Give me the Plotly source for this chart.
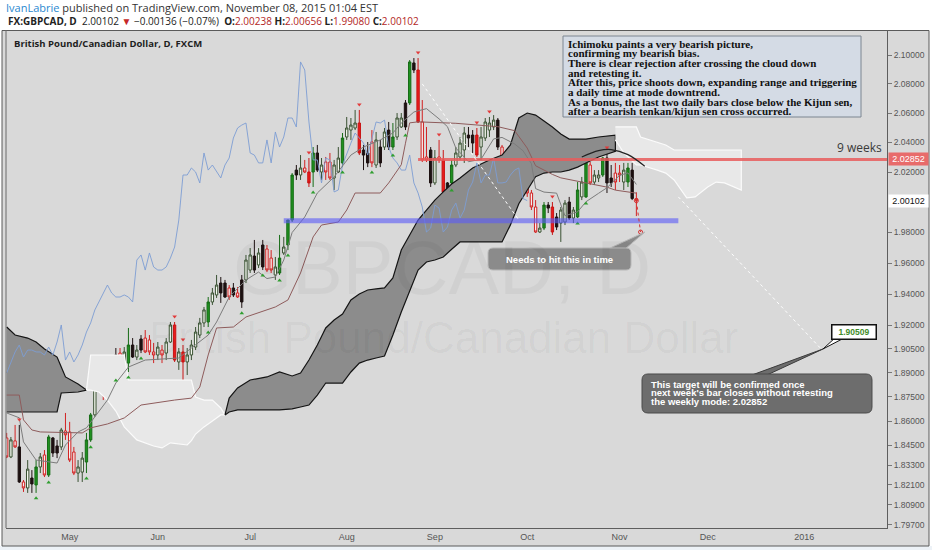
import math
import pandas as pd
import plotly.graph_objects as go

# ---------------- data ----------------
first_bar = "2015-04-10"

# candle look per bar: g=green, w=white/hollow, k=black, r=red, o=red outline
styles = list(
    "owokowkgwo" "gkkwooowwg" "gwoowokowg" "kwkooowoww" "rwrwwwwwgw"
    "wkkokokwwk" "wkoowgwggk" "worgkwooww" "gwwwrkkowk" "wkgwwkgkro"
    "okworkgwww" "kkrwwwwkoo" "okwrooowgk" "rkwwkwgwgo" "wwgkkoowgk" "o"
)

opens = [
    1.8496, 1.8380, 1.8478, 1.8441, 1.8228, 1.8192, 1.8252, 1.8210, 1.8319, 1.8392,
    1.8270, 1.8496, 1.8447, 1.8441, 1.8539, 1.8533, 1.8410, 1.8282, 1.8288, 1.8349,
    1.8484, 1.8638, 1.8849, 1.8830, 1.8824, 1.8893, 1.9012, 1.9024, 1.8961, 1.8961,
    1.9075, 1.8999, 1.9113, 1.9119, 1.9107, 1.9031, 1.9012, 1.9043, 1.9024, 1.9094,
    1.9202, 1.8968, 1.9031, 1.8968, 1.9012, 1.9062, 1.9138, 1.9215, 1.9221, 1.9349,
    1.9394, 1.9471, 1.9471, 1.9439, 1.9439, 1.9407, 1.9491, 1.9491, 1.9555, 1.9646,
    1.9588, 1.9718, 1.9692, 1.9633, 1.9523, 1.9536, 1.9666, 1.9718, 1.9882, 2.0214,
    2.0181, 2.0228, 2.0201, 2.0201, 2.0329, 2.0201, 2.0268, 2.0268, 2.0161, 2.0201,
    2.0262, 2.0437, 2.0484, 2.0498, 2.0532, 2.0349, 2.0329, 2.0403, 2.0248, 2.0369,
    2.0369, 2.0484, 2.0369, 2.0437, 2.0505, 2.0669, 2.0669, 2.0945, 2.0896, 2.0539,
    2.0302, 2.0349, 2.0128, 2.0302, 2.0282, 2.0128, 2.0128, 2.0248, 2.0302, 2.0349,
    2.0450, 2.0450, 2.0450, 2.0369, 2.0430, 2.0484, 2.0505, 2.0552, 2.0369, 2.0295,
    2.0315, 2.0315, 2.0282, 2.0329, 2.0128, 2.0061, 1.9968, 1.9803, 1.9829, 1.9981,
    1.9968, 1.9902, 1.9862, 1.9869, 2.0001, 1.9895, 1.9902, 2.0035, 2.0035, 2.0248,
    2.0134, 2.0161, 2.0181, 2.0295, 2.0161, 2.0194, 2.0194, 2.0134, 2.0134, 2.0214,
    2.00238,
]
highs = [
    1.8527, 1.8502, 1.8576, 1.8576, 1.8240, 1.8361, 1.8300, 1.8361, 1.8404, 1.8422,
    1.8515, 1.8502, 1.8484, 1.8558, 1.8650, 1.8595, 1.8441, 1.8361, 1.8410, 1.8527,
    1.8650, 1.8868, 1.8905, 1.8874, 1.8936, 1.8930, 1.9056, 1.9056, 1.9062, 1.9183,
    1.9119, 1.9075, 1.9138, 1.9170, 1.9138, 1.9088, 1.9094, 1.9075, 1.9119, 1.9221,
    1.9221, 1.9056, 1.9075, 1.9056, 1.9107, 1.9189, 1.9247, 1.9317, 1.9381, 1.9439,
    1.9523, 1.9510, 1.9491, 1.9458, 1.9471, 1.9445, 1.9523, 1.9653, 1.9698, 1.9751,
    1.9698, 1.9751, 1.9718, 1.9685, 1.9640, 1.9784, 1.9771, 1.9882, 2.0194, 2.0248,
    2.0315, 2.0282, 2.0295, 2.0369, 2.0383, 2.0295, 2.0302, 2.0329, 2.0282, 2.0369,
    2.0464, 2.0573, 2.0566, 2.0621, 2.0621, 2.0383, 2.0403, 2.0484, 2.0471, 2.0417,
    2.0498, 2.0539, 2.0532, 2.0600, 2.0600, 2.0689, 2.0965, 2.0979, 2.0979, 2.0689,
    2.0505, 2.0369, 2.0349, 2.0417, 2.0349, 2.0134, 2.0282, 2.0369, 2.0437, 2.0505,
    2.0505, 2.0484, 2.0498, 2.0505, 2.0566, 2.0573, 2.0586, 2.0566, 2.0383, 2.0315,
    2.0329, 2.0329, 2.0349, 2.0336, 2.0148, 2.0081, 2.0014, 1.9862, 2.0001, 2.0001,
    2.0001, 1.9928, 1.9968, 2.0014, 2.0035, 1.9968, 2.0134, 2.0168, 2.0268, 2.0268,
    2.0214, 2.0214, 2.0302, 2.0329, 2.0248, 2.0262, 2.0248, 2.0262, 2.0262, 2.0262,
    2.00656,
]
lows = [
    1.8373, 1.8373, 1.8435, 1.8222, 1.8168, 1.8162, 1.8162, 1.8162, 1.8282, 1.8258,
    1.8258, 1.8380, 1.8373, 1.8422, 1.8484, 1.8349, 1.8270, 1.8228, 1.8228, 1.8282,
    1.8472, 1.8626, 1.8805, 1.8730, 1.8780, 1.8855, 1.8886, 1.8961, 1.8899, 1.8905,
    1.8993, 1.8980, 1.9024, 1.9024, 1.9012, 1.8961, 1.8980, 1.8961, 1.8980, 1.9088,
    1.8968, 1.8918, 1.8843, 1.8886, 1.8980, 1.9043, 1.9119, 1.9189, 1.9189, 1.9330,
    1.9375, 1.9343, 1.9375, 1.9362, 1.9381, 1.9375, 1.9311, 1.9471, 1.9536, 1.9536,
    1.9568, 1.9555, 1.9542, 1.9536, 1.9491, 1.9523, 1.9653, 1.9685, 1.9869, 2.0148,
    2.0148, 2.0194, 2.0101, 2.0101, 2.0201, 2.0148, 2.0148, 2.0148, 2.0081, 2.0194,
    2.0234, 2.0417, 2.0417, 2.0484, 2.0315, 2.0214, 2.0234, 2.0234, 2.0228, 2.0234,
    2.0349, 2.0349, 2.0349, 2.0417, 2.0498, 2.0484, 2.0655, 2.0875, 2.0532, 2.0268,
    2.0268, 2.0101, 2.0114, 2.0262, 2.0035, 2.0068, 2.0114, 2.0234, 2.0282, 2.0262,
    2.0369, 2.0329, 2.0302, 2.0282, 2.0410, 2.0437, 2.0484, 2.0349, 2.0282, 2.0214,
    2.0201, 2.0194, 2.0248, 2.0101, 2.0035, 1.9948, 1.9797, 1.9797, 1.9816, 1.9928,
    1.9784, 1.9816, 1.9738, 1.9849, 1.9882, 1.9862, 1.9895, 2.0014, 2.0028, 2.0114,
    2.0114, 2.0134, 2.0168, 2.0061, 2.0101, 2.0081, 2.0134, 2.0081, 2.0101, 2.0014,
    1.99080,
]
closes = [
    1.8380, 1.8484, 1.8441, 1.8228, 1.8192, 1.8306, 1.8216, 1.8319, 1.8380, 1.8270,
    1.8502, 1.8404, 1.8404, 1.8545, 1.8515, 1.8361, 1.8282, 1.8319, 1.8373, 1.8484,
    1.8638, 1.8843, 1.8824, 1.8811, 1.8899, 1.8874, 1.8899, 1.8968, 1.9031, 1.9075,
    1.8999, 1.9043, 1.9043, 1.9031, 1.9031, 1.9012, 1.9062, 1.9012, 1.9094, 1.9202,
    1.8980, 1.9031, 1.8968, 1.9012, 1.9075, 1.9157, 1.9215, 1.9298, 1.9349, 1.9407,
    1.9458, 1.9407, 1.9381, 1.9381, 1.9394, 1.9381, 1.9349, 1.9620, 1.9653, 1.9555,
    1.9666, 1.9575, 1.9555, 1.9555, 1.9575, 1.9633, 1.9705, 1.9882, 2.0181, 2.0181,
    2.0228, 2.0201, 2.0128, 2.0329, 2.0214, 2.0248, 2.0201, 2.0161, 2.0248, 2.0295,
    2.0430, 2.0498, 2.0518, 2.0532, 2.0329, 2.0315, 2.0262, 2.0262, 2.0417, 2.0262,
    2.0471, 2.0369, 2.0437, 2.0566, 2.0566, 2.0505, 2.0952, 2.0896, 2.0539, 2.0282,
    2.0282, 2.0128, 2.0295, 2.0282, 2.0068, 2.0081, 2.0248, 2.0329, 2.0396, 2.0464,
    2.0430, 2.0396, 2.0315, 2.0437, 2.0539, 2.0532, 2.0552, 2.0369, 2.0295, 2.0262,
    2.0214, 2.0214, 2.0315, 2.0128, 2.0061, 1.9968, 1.9803, 1.9829, 1.9981, 1.9961,
    1.9803, 1.9836, 1.9948, 1.9994, 1.9895, 1.9948, 2.0081, 2.0134, 2.0262, 2.0128,
    2.0181, 2.0181, 2.0295, 2.0128, 2.0128, 2.0134, 2.0181, 2.0214, 2.0228, 2.00238,
    2.00102,
]

# small signal marks under lows / above highs (bar numbers)
bull_marks = [7, 10, 19, 20, 26, 29, 32, 48, 56, 61, 65, 67, 73, 80, 87, 92, 95, 106, 136, 138]
bear_marks = [3, 40, 42, 72, 84, 98, 103, 112, 115, 130, 143]

# ichimoku lines, read at sample bars
tenkan_idx = [0, 3, 4, 7, 12, 14, 17, 19, 21, 24, 26, 29, 33, 37, 41, 44, 48, 50, 53, 57,
              60, 62, 64, 66, 68, 71, 74, 78, 82, 85, 89, 92, 94, 97, 100, 103, 105, 107, 110, 113,
              116, 118, 121, 123, 125, 126, 128, 131, 133, 136, 138, 141, 143, 146, 148, 150]
tenkan = [1.8650, 1.8620, 1.8472, 1.8361, 1.8343, 1.8453, 1.8533, 1.8558, 1.8626, 1.8730,
          1.8836, 1.8936, 1.8980, 1.8986, 1.8993, 1.9056, 1.9138, 1.9221, 1.9381, 1.9491,
          1.9542, 1.9500, 1.9510, 1.9620, 1.9800, 1.9902, 2.0061, 2.0168, 2.0315, 2.0369,
          2.0417, 2.0464, 2.0532, 2.0607, 2.0630, 2.0560, 2.0507, 2.0362, 2.0270, 2.0287,
          2.0424, 2.0434, 2.0390, 2.0344, 2.0257, 2.0090, 2.0067, 2.0060, 1.9910, 1.9936,
          2.0003, 2.0059, 2.0096, 2.0179, 2.0195, 2.0118]
kijun_idx = [0, 3, 4, 6, 8, 18, 20, 24, 28, 32, 40, 44, 46, 48, 50, 54, 57, 64, 67, 70,
             73, 75, 79, 81, 83, 89, 91, 94, 95, 96, 98, 107, 117, 121, 124, 126, 130, 132, 143, 145,
             150]
kijun = [1.8761, 1.8761, 1.8607, 1.8545, 1.8533, 1.8527, 1.8558, 1.8582, 1.8619, 1.8699,
         1.8730, 1.8742, 1.8811, 1.9012, 1.9183, 1.9189, 1.9253, 1.9317, 1.9362, 1.9536,
         1.9771, 1.9849, 1.9869, 1.9948, 2.0061, 2.0061, 2.0128, 2.0250, 2.0395, 2.0533,
         2.0540, 2.0530, 2.0507, 2.0480, 2.0362, 2.0243, 2.0185, 2.0162, 2.0100, 2.0080,
         2.0060]
chikou_shift = 26

# cloud pieces: bar numbers, upper edge, lower edge
dark1_idx = [0, 2, 5, 7, 9, 12, 13, 14, 17, 19]
dark1_top = [1.9189, 1.9138, 1.9119, 1.9094, 1.9050, 1.8999, 1.8936, 1.8874, 1.8830, 1.8792]
dark1_bot = [1.8656, 1.8656, 1.8656, 1.8656, 1.8656, 1.8656, 1.8774, 1.8774, 1.8780, 1.8792]

light1_idx = [19, 20, 22, 24, 26, 28, 29, 31, 35, 37, 39, 43, 44, 45, 47, 49, 51, 52]
light1_top = [1.8792, 1.9012, 1.9012, 1.9012, 1.9012, 1.9012, 1.8855, 1.8855, 1.8855,
              1.8855, 1.8855, 1.8855, 1.8855, 1.8749, 1.8730, 1.8730, 1.8681, 1.8638]
light1_bot = [1.8792, 1.8792, 1.8780, 1.8730, 1.8662, 1.8564, 1.8540, 1.8484, 1.8447,
              1.8435, 1.8466, 1.8453, 1.8480, 1.8520, 1.8564, 1.8600, 1.8638, 1.8638]

dark2_idx = [52, 53, 55, 58, 62, 65, 68, 70, 72, 74, 76, 78, 80, 82, 84, 86, 88, 90, 92, 94,
             96, 98, 100, 102, 104, 106, 108, 111, 115, 118, 120, 122, 124, 126, 128, 130, 132,
             134, 136, 138, 141, 145]
dark2_top = [1.8638, 1.8742, 1.8805, 1.8855, 1.8874, 1.8905, 1.8880, 1.8899, 1.8980, 1.9075,
             1.9183, 1.9234, 1.9272, 1.9362, 1.9400, 1.9426, 1.9433, 1.9440, 1.9504, 1.9685,
             1.9784, 1.9882, 1.9948, 2.0014, 2.0068, 2.0121, 2.0161, 2.0228, 2.0282, 2.0315,
             2.0383, 2.0566, 2.0600, 2.0586, 2.0545, 2.0505, 2.0457, 2.0423, 2.0423, 2.0423,
             2.0437, 2.0450]
dark2_bot = [1.8638, 1.8656, 1.8669, 1.8669, 1.8669, 1.8669, 1.8675, 1.8687, 1.8699, 1.8761,
             1.8836, 1.8836, 1.8836, 1.8905, 1.8961, 1.8980, 1.8993, 1.9005, 1.9138, 1.9285,
             1.9420, 1.9555, 1.9607, 1.9620, 1.9640, 1.9690, 1.9738, 1.9738, 1.9738, 1.9738,
             1.9850, 1.9990, 2.0080, 2.0170, 2.0194, 2.0201, 2.0201, 2.0214, 2.0234, 2.0262,
             2.0302, 2.0340]

light2_idx = [145, 147, 150, 151, 155, 157, 159, 162, 164, 167, 169, 171, 175]
light2_top = [2.0505, 2.0505, 2.0505, 2.0437, 2.0403, 2.0383, 2.0349, 2.0349, 2.0349,
              2.0349, 2.0349, 2.0349, 2.0349]
light2_bot = [2.0417, 2.0330, 2.0248, 2.0248, 2.0214, 2.0194, 2.0148, 2.0028, 2.0035,
              2.0101, 2.0134, 2.0128, 2.0081]

# drawings
support_level, support_from, support_to = 1.9878, 66, 160
weekly_mode, mode_from = 2.02852, 98
rejection = [(99, 2.0800), (122, 1.9882)]
target_line = [(160, 2.0035), (194, 1.90509)]
projection = [(150, 2.00102), (151, 1.9803)]
arc_idx = [137, 141, 144, 148, 152]
arc_val = [2.0302, 2.0345, 2.0352, 2.0318, 2.0240]

y_ticks = [1.797, 1.809, 1.821, 1.833, 1.845, 1.86, 1.875, 1.89, 1.905, 1.92,
           1.94, 1.96, 1.98, 2.02, 2.04, 2.06, 2.08, 2.10]
month_ticks = ["2015-05-01", "2015-06-01", "2015-07-01", "2015-08-03", "2015-09-01",
               "2015-10-01", "2015-11-02", "2015-12-01", "2016-01-01"]
month_labels = ["May", "Jun", "Jul", "Aug", "Sep", "Oct", "Nov", "Dec", "2016"]

notes = [
    "Ichimoku paints a very bearish picture,",
    "confirming my bearish bias.",
    "There is clear rejection after crossing the cloud down",
    "and retesting it.",
    "After this, price shoots down, expanding range and triggering",
    "a daily time at mode downtrend.",
    "As a bonus, the last two daily bars close below the Kijun sen,",
    "after a bearish tenkan/kijun sen cross occurred.",
]
target_note = [
    "This target will be confirmed once",
    "next week's bar closes without retesting",
    "the weekly mode: 2.02852",
]

# ---------------- figure ----------------
n_bars = len(closes)
dates = pd.bdate_range(first_bar, periods=n_bars + 70) + pd.Timedelta(hours=12)
bar_dates = list(dates[:n_bars])

W, H = 932, 550
ML, MR, MT, MB = 6, 45, 30, 22
PW, PH = W - ML - MR, H - MT - MB
y_lo, y_hi = math.log10(1.7952), math.log10(2.1175)


def px(x):
    return (x - ML) / PW


def py(y):
    return (H - MB - y) / PH


def price_to_paper(p):
    return (math.log10(p) - y_lo) / (y_hi - y_lo)


fig = go.Figure()

clouds = [
    (dark1_idx, dark1_top, dark1_bot, True),
    (light1_idx, light1_top, light1_bot, False),
    (dark2_idx, dark2_top, dark2_bot, True),
    (light2_idx, light2_top, light2_bot, False),
]
for idx, top, bot, dark in clouds:
    xs = [dates[i] for i in idx] + [dates[i] for i in idx[::-1]]
    ys = top + bot[::-1]
    fig.add_trace(go.Scatter(
        x=xs, y=ys, fill="toself", mode="lines",
        fillcolor="#8c8c8c" if dark else "#e8e8e8",
        line=dict(color="#141414" if dark else "#fbfbfb", width=1.2),
        hoverinfo="skip", showlegend=False))

# lagging span (close shifted back)
fig.add_trace(go.Scatter(
    x=bar_dates[:n_bars - chikou_shift], y=closes[chikou_shift:], mode="lines",
    line=dict(color="#7d9dd4", width=0.9), hoverinfo="skip", showlegend=False))
fig.add_trace(go.Scatter(
    x=[dates[i] for i in kijun_idx], y=kijun, mode="lines",
    line=dict(color="#8e5c5c", width=1), hoverinfo="skip", showlegend=False))
fig.add_trace(go.Scatter(
    x=[dates[i] for i in tenkan_idx], y=tenkan, mode="lines",
    line=dict(color="#7c7c7c", width=1), hoverinfo="skip", showlegend=False))

candle_look = {
    "g": ("#1f911f", "#176c17"),
    "w": ("#f4f8ef", "#3a5233"),
    "k": ("#1d1111", "#1d1111"),
    "r": ("#ea1b1b", "#c81414"),
    "o": ("#f7eeee", "#d22222"),
}
for code, (fill, edge) in candle_look.items():
    pick = [s == code for s in styles]
    look = dict(fillcolor=fill, line=dict(color=edge, width=1))
    fig.add_trace(go.Candlestick(
        x=bar_dates,
        open=[v if m else None for v, m in zip(opens, pick)],
        high=[v if m else None for v, m in zip(highs, pick)],
        low=[v if m else None for v, m in zip(lows, pick)],
        close=[v if m else None for v, m in zip(closes, pick)],
        increasing=look, decreasing=look, whiskerwidth=0,
        hoverinfo="skip", showlegend=False))

fig.add_trace(go.Scatter(
    x=[dates[i] for i in bull_marks], y=[lows[i] * 0.9982 for i in bull_marks],
    mode="markers", marker=dict(symbol="triangle-up", size=4, color="#2f9e2f"),
    hoverinfo="skip", showlegend=False))
fig.add_trace(go.Scatter(
    x=[dates[i] for i in bear_marks], y=[highs[i] * 1.0018 for i in bear_marks],
    mode="markers", marker=dict(symbol="triangle-down", size=4, color="#e23a3a"),
    hoverinfo="skip", showlegend=False))

# support band and weekly mode line
fig.add_trace(go.Scatter(
    x=[dates[support_from], dates[support_to]], y=[support_level] * 2, mode="lines",
    line=dict(color="rgba(92,92,246,0.62)", width=5), hoverinfo="skip", showlegend=False))
fig.add_trace(go.Scatter(
    x=[dates[mode_from], dates[n_bars + 65]], y=[weekly_mode] * 2, mode="lines",
    line=dict(color="rgba(232,92,92,0.85)", width=3), hoverinfo="skip", showlegend=False))

for pts in (rejection, target_line):
    fig.add_trace(go.Scatter(
        x=[dates[i] for i, _ in pts], y=[v for _, v in pts], mode="lines",
        line=dict(color="#ffffff", width=1, dash="dot"), hoverinfo="skip", showlegend=False))
fig.add_trace(go.Scatter(
    x=[dates[i] for i, _ in projection], y=[v for _, v in projection], mode="lines+markers",
    line=dict(color="#d63030", width=1, dash="dot"),
    marker=dict(symbol="circle-open", size=4, color="#d63030"),
    hoverinfo="skip", showlegend=False))
fig.add_trace(go.Scatter(
    x=[dates[i] for i in arc_idx], y=arc_val, mode="lines",
    line=dict(color="#222222", width=1.2, shape="spline"), hoverinfo="skip", showlegend=False))


def rounded(x0, y0, x1, y1, r):
    pts = [
        ("M", x0 + r, y0), ("L", x1 - r, y0), ("Q", x1, y0, x1, y0 + r),
        ("L", x1, y1 - r), ("Q", x1, y1, x1 - r, y1), ("L", x0 + r, y1),
        ("Q", x0, y1, x0, y1 - r), ("L", x0, y0 + r), ("Q", x0, y0, x0 + r, y0),
    ]
    out = []
    for p in pts:
        cmd, nums = p[0], p[1:]
        coords = []
        for j in range(0, len(nums), 2):
            coords.append(f"{px(nums[j]):.5f},{py(nums[j + 1]):.5f}")
        out.append(cmd + " " + " ".join(coords))
    return " ".join(out) + " Z"


def tri(a, b, c):
    return "M {} L {} L {} Z".format(*[f"{px(x):.5f},{py(y):.5f}" for x, y in (a, b, c)])


shapes = [
    dict(type="rect", xref="paper", yref="paper", x0=px(0), x1=px(932), y0=py(550), y1=py(546),
         fillcolor="#edf2f7", line=dict(width=0), layer="below"),
    dict(type="rect", xref="paper", yref="paper", x0=px(2), x1=px(929), y0=py(546), y1=py(30.5),
         fillcolor="#d9d9d9", line=dict(color="#5a5a5a", width=1), layer="below"),
    dict(type="line", xref="paper", yref="paper", x0=0, x1=0, y0=0, y1=1,
         line=dict(color="#6a6a6a", width=1)),
    # notes box
    dict(type="rect", xref="paper", yref="paper", x0=px(563), x1=px(861), y0=py(117), y1=py(36),
         fillcolor="#d4dbe5", line=dict(color="#7c8691", width=1)),
    # "needs to hit" callout
    dict(type="path", xref="paper", yref="paper", path=tri((608, 249), (625, 249), (645, 232)),
         fillcolor="#8b8b8b", line=dict(color="#b8b8b8", width=1)),
    dict(type="path", xref="paper", yref="paper", path=rounded(488, 248, 631, 270, 5),
         fillcolor="#8b8b8b", line=dict(color="#b8b8b8", width=1)),
    # target callout
    dict(type="path", xref="paper", yref="paper", path=tri((752, 375), (767, 375), (823, 349)),
         fillcolor="#6d6d6d", line=dict(color="#3c3c3c", width=1)),
    dict(type="path", xref="paper", yref="paper", path=rounded(642, 374, 872, 413, 6),
         fillcolor="#6d6d6d", line=dict(color="#4a4a4a", width=1)),
    # pointer of the target price label
    dict(type="path", xref="paper", yref="paper", path=tri((836, 337), (846, 337), (823, 349)),
         fillcolor="#ffffff", line=dict(color="#111111", width=1)),
]

ann = []
# watermark
ann.append(dict(text="GBPCAD, D", x=px(442), y=py(267), xref="paper", yref="paper",
                xanchor="center", showarrow=False,
                font=dict(family="Liberation Sans", size=76, color="rgba(0,0,0,0.04)")))
ann.append(dict(text="British Pound/Canadian Dollar", x=px(443), y=py(337), xref="paper",
                yref="paper", xanchor="center", showarrow=False,
                font=dict(family="Liberation Sans", size=44, color="rgba(0,0,0,0.04)")))
# header
ann.append(dict(
    text="<span style='color:#2a88cf'>IvanLabrie</span> published on TradingView.com, "
         "November 08, 2015 01:04 EST",
    x=px(4), y=py(8), xref="paper", yref="paper", xanchor="left", yanchor="middle",
    showarrow=False, font=dict(family="Open Sans", size=11, color="#333333")))
red = "#b3261e"
ann.append(dict(
    text=f"<b>FX:GBPCAD, D</b>  2.00102 <span style='color:#c62828'>▼</span> −0.00136 (−0.07%)  "
         f"<b>O:</b><span style='color:{red}'>2.00238</span> <b>H:</b><span style='color:{red}'>2.00656</span> "
         f"<b>L:</b><span style='color:{red}'>1.99080</span> <b>C:</b><span style='color:{red}'>2.00102</span>",
    x=px(6), y=py(21), xref="paper", yref="paper", xanchor="left", yanchor="middle",
    showarrow=False, font=dict(family="Open Sans", size=10, color="#222222")))
ann.append(dict(text="<b>British Pound/Canadian Dollar, D, FXCM</b>", x=px(12), y=py(43),
                xref="paper", yref="paper", xanchor="left", yanchor="middle", showarrow=False,
                font=dict(family="Open Sans", size=9.5, color="#1e1e1e")))
# notes
for i, line in enumerate(notes):
    ann.append(dict(text=f"<b>{line}</b>", x=px(566), y=py(43.5 + i * 9.7), xref="paper",
                    yref="paper", xanchor="left", yanchor="middle", showarrow=False,
                    font=dict(family="Liberation Serif", size=11, color="#111111")))
ann.append(dict(text="<b>Needs to hit this in time</b>", x=px(559.5), y=py(259), xref="paper",
                yref="paper", xanchor="center", yanchor="middle", showarrow=False,
                font=dict(family="Liberation Sans", size=9.5, color="#ffffff")))
for i, line in enumerate(target_note):
    ann.append(dict(text=f"<b>{line}</b>", x=px(649), y=py(384.5 + i * 8.4), xref="paper",
                    yref="paper", xanchor="left", yanchor="middle", showarrow=False,
                    font=dict(family="Liberation Sans", size=9.5, color="#ffffff")))
ann.append(dict(text=f"<b>{target_line[1][1]:.5f}</b>", x=px(854), y=py(331.5), xref="paper",
                yref="paper", xanchor="center", yanchor="middle", showarrow=False,
                bgcolor="#ffffff", bordercolor="#111111", borderwidth=1.5, borderpad=1.5,
                width=40, font=dict(family="Liberation Sans", size=8.5, color="#3f8c2a")))
ann.append(dict(text="9 weeks", x=px(884), y=price_to_paper(weekly_mode), xref="paper",
                yref="paper", xanchor="right", yanchor="bottom", yshift=1, showarrow=False,
                font=dict(family="Open Sans", size=12, color="#3a3a3a")))
# price labels on the axis
ann.append(dict(text=f"{weekly_mode:.5f}", x=px(888), y=price_to_paper(weekly_mode),
                xref="paper", yref="paper", xanchor="left", yanchor="middle", showarrow=False,
                bgcolor="#e86b6b", width=37, borderpad=1,
                font=dict(family="Liberation Sans", size=9, color="#ffffff")))
ann.append(dict(text=f"{closes[-1]:.5f}", x=px(888), y=price_to_paper(closes[-1]),
                xref="paper", yref="paper", xanchor="left", yanchor="middle", showarrow=False,
                bgcolor="#ffffff", width=37, borderpad=1,
                font=dict(family="Liberation Sans", size=9, color="#111111")))

x_left = dates[0] - pd.Timedelta(hours=4)
x_right = dates[209] + pd.Timedelta(hours=17)

fig.update_layout(
    width=W, height=H, margin=dict(l=ML, r=MR, t=MT, b=MB),
    paper_bgcolor="#ffffff", plot_bgcolor="#d9d9d9",
    showlegend=False, shapes=shapes, annotations=ann, boxgap=0.2,
    xaxis=dict(
        type="date", range=[x_left, x_right], rangeslider=dict(visible=False),
        rangebreaks=[dict(bounds=["sat", "mon"])],
        tickvals=[pd.Timestamp(t) + pd.Timedelta(hours=12) for t in month_ticks],
        ticktext=month_labels, ticks="", showgrid=False, zeroline=False,
        showline=True, linecolor="#5e5e5e", linewidth=1,
        tickfont=dict(family="Liberation Sans", size=9, color="#555555")),
    yaxis=dict(
        type="log", side="right", range=[y_lo, y_hi],
        tickvals=y_ticks, ticktext=[f"{v:.5f}" for v in y_ticks],
        ticks="outside", ticklen=4, tickcolor="#777777", showgrid=False, zeroline=False,
        showline=True, linecolor="#5e5e5e", linewidth=1,
        tickfont=dict(family="Liberation Sans", size=8.5, color="#555555")),
)

fig.write_html("out.html", config={"displayModeBar": False},
               post_script="document.body.style.margin='0px';")
